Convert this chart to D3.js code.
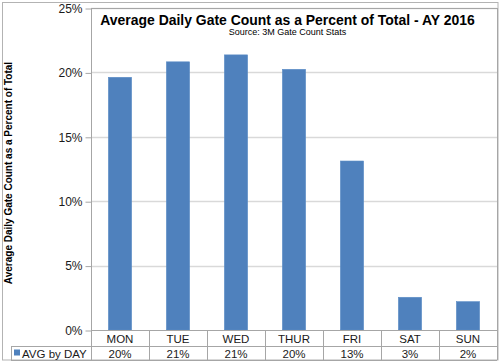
<!DOCTYPE html>
<html><head><meta charset="utf-8">
<script src="https://cdn.jsdelivr.net/npm/d3@7"></script>
<style>body{margin:0;background:#fff}svg{display:block;font-family:"Liberation Sans",Arial,sans-serif}</style>
</head><body><svg id="c" width="500" height="363"></svg>
<script>
const categories = ["MON","TUE","WED","THUR","FRI","SAT","SUN"];
const values = [19.62, 20.82, 21.36, 20.24, 13.12, 2.54, 2.2];
const tableLabels = ["20%","21%","21%","20%","13%","3%","2%"];
const yTicks = [0,5,10,15,20,25];
const seriesName = "AVG by DAY";
const title = "Average Daily Gate Count as a Percent of Total - AY 2016";
const subtitle = "Source: 3M Gate Count Stats";
const yTitle = "Average Daily Gate Count as a Percent of Total";

const svg = d3.select("#c");
const L = 91, R = 497, T = 8, B = 330, rowMid = 346, bottom = 360;
const x = d3.scaleBand().domain(categories).range([L, R]).paddingInner(0.6).paddingOuter(0.3);
const xc = d3.scaleBand().domain(categories).range([L, R]).padding(0);
const y = d3.scaleLinear().domain([0,25]).range([B, T]);
const grid = "#d9d9d9", line = "#a6a6a6", txt = "#1a1a1a";

// outer border
svg.append("rect").attr("x",2.5).attr("y",2.5).attr("width",495.5).attr("height",357.5)
  .attr("fill","#fff").attr("stroke","#b3b3b3");

// gridlines
svg.append("g").selectAll("line").data(yTicks.filter(d=>d>0)).join("line")
  .attr("x1",L).attr("x2",R).attr("y1",d=>Math.round(y(d))+0.5).attr("y2",d=>Math.round(y(d))+0.5)
  .attr("stroke",grid).attr("stroke-width",1.5);

// y axis
const yAxis = d3.axisLeft(y).tickValues(yTicks).tickFormat(d=>d+"%").tickSize(6).tickPadding(3);
const ga = svg.append("g").attr("transform",`translate(${L+0.5},0.5)`).call(yAxis);
ga.select(".domain").remove();
ga.selectAll(".tick line").attr("stroke",line);
ga.selectAll(".tick text").attr("font-size",12).attr("fill",txt).attr("font-family","Liberation Sans, Arial, sans-serif");

// bars
svg.append("g").selectAll("rect").data(values).join("rect")
  .attr("x",(d,i)=>x(categories[i])).attr("width",x.bandwidth())
  .attr("y",d=>y(d)).attr("height",d=>B-y(d))
  .attr("fill","#4f81bd").attr("stroke","#5b8cc6").attr("stroke-width",0.6);

// plot frame & table lines
const g = svg.append("g").attr("stroke",line).attr("stroke-width",1).attr("shape-rendering","crispEdges");
g.append("line").attr("x1",L).attr("x2",L).attr("y1",T).attr("y2",bottom);
g.append("line").attr("x1",R).attr("x2",R).attr("y1",T).attr("y2",bottom);
g.append("line").attr("x1",L).attr("x2",R).attr("y1",T).attr("y2",T);
g.append("line").attr("x1",L).attr("x2",R).attr("y1",B).attr("y2",B);
g.append("line").attr("x1",11).attr("x2",R).attr("y1",rowMid).attr("y2",rowMid);
g.append("line").attr("x1",11).attr("x2",R).attr("y1",bottom).attr("y2",bottom);
g.append("line").attr("x1",11).attr("x2",11).attr("y1",rowMid).attr("y2",bottom);
g.selectAll(".sep").data(categories.slice(1)).join("line")
  .attr("x1",d=>Math.round(xc(d))).attr("x2",d=>Math.round(xc(d))).attr("y1",B).attr("y2",bottom);

// table text
svg.append("g").selectAll("text").data(categories).join("text")
  .attr("x",d=>xc(d)+xc.bandwidth()/2).attr("y",343).attr("text-anchor","middle")
  .attr("font-size",11.5).attr("fill",txt).text(d=>d);
svg.append("g").selectAll("text").data(tableLabels).join("text")
  .attr("x",(d,i)=>xc(categories[i])+xc.bandwidth()/2).attr("y",358).attr("text-anchor","middle")
  .attr("font-size",11.5).attr("fill",txt).text(d=>d);
svg.append("rect").attr("x",14).attr("y",349.5).attr("width",6).attr("height",6).attr("fill","#4f81bd");
svg.append("text").attr("x",22).attr("y",358).attr("font-size",11.5).attr("fill",txt).text(seriesName);

// titles
const tt = svg.append("text").attr("x",287.5).attr("y",25).attr("text-anchor","middle")
  .attr("font-size",15).attr("font-weight","bold").attr("fill","#000").text(title);
const w = tt.node().getComputedTextLength();
if (w > 0) tt.attr("font-size", 15*375/w);
svg.append("text").attr("x",287.5).attr("y",35).attr("text-anchor","middle")
  .attr("font-size",9).attr("fill","#000").text(subtitle);
svg.append("text").attr("transform","translate(12,173) rotate(-90)").attr("text-anchor","middle")
  .attr("font-size",10).attr("font-weight","bold").attr("fill","#000").text(yTitle);
</script></body></html>
